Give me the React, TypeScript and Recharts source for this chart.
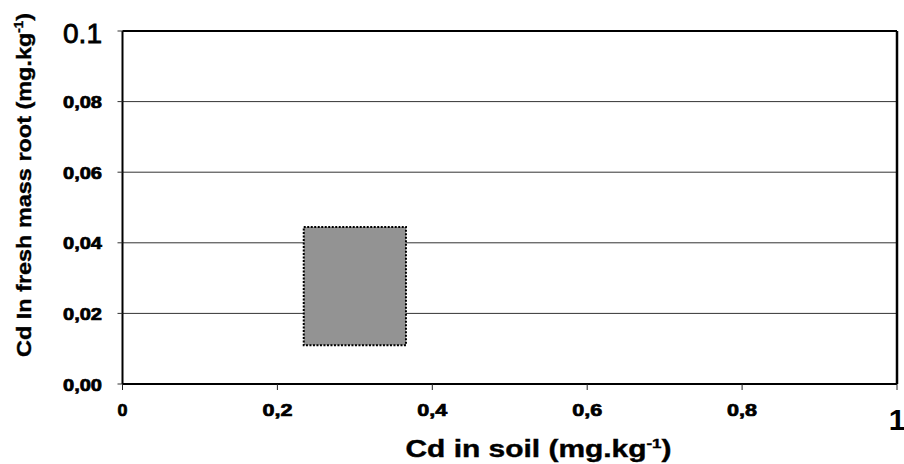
import React from 'react';
import {
  ComposedChart,
  XAxis,
  YAxis,
  CartesianGrid,
  ReferenceArea,
  ReferenceLine,
  Scatter,
} from 'recharts';

// Axis ticks and their printed labels
const xTicks = [0, 0.2, 0.4, 0.6, 0.8, 1];
const xTickLabels = ['0', '0,2', '0,4', '0,6', '0,8', '1'];
const yTicks = [0, 0.02, 0.04, 0.06, 0.08, 0.1];
const yTickLabels = ['0,00', '0,02', '0,04', '0,06', '0,08', '0.1'];

// Observed range of Cd: soil (x) and fresh-mass root (y), mg.kg-1
const soilRange = [0.234, 0.366];
const rootRange = [0.011, 0.0445];

// Corners of the observed range; they anchor the axes but are not drawn as markers
const rangeCorners = [
  { x: soilRange[0], y: rootRange[0] },
  { x: soilRange[1], y: rootRange[1] },
];

const FONT = '"Liberation Sans", Arial, sans-serif';

const YTick = (props: any) => {
  const { x, y, payload } = props;
  const i = yTicks.indexOf(payload.value);
  const label = yTickLabels[i] ?? String(payload.value);
  if (payload.value === 0.1) {
    return (
      <text x={x} y={y + 12} textAnchor="end" fontFamily={FONT} fontSize={28} fill="#000"
        stroke="#000" strokeWidth={0.8} textLength={39} lengthAdjust="spacingAndGlyphs">
        {label}
      </text>
    );
  }
  return (
    <text x={x} y={y + 6.5} textAnchor="end" fontFamily={FONT} fontWeight="bold" fontSize={16}
      fill="#000" stroke="#000" strokeWidth={0.7} textLength={39} lengthAdjust="spacingAndGlyphs">
      {label}
    </text>
  );
};

const XTick = (props: any) => {
  const { x, y, payload } = props;
  const i = xTicks.indexOf(payload.value);
  const label = xTickLabels[i] ?? String(payload.value);
  if (payload.value === 1) {
    return (
      <text x={x} y={y + 39} textAnchor="middle" fontFamily={FONT} fontWeight="bold" fontSize={30} fill="#000">
        {label}
      </text>
    );
  }
  return (
    <text x={x} y={y + 25} textAnchor="middle" fontFamily={FONT} fontWeight="bold" fontSize={17}
      fill="#000" stroke="#000" strokeWidth={0.7}
      textLength={label.length === 1 ? 10 : 30} lengthAdjust="spacingAndGlyphs">
      {label}
    </text>
  );
};

const XTitle = (props: any) => {
  const vb = props.viewBox || { x: 0, y: 0 };
  return (
    <text x={vb.x + 416} y={vb.y + 73} textAnchor="middle" fontFamily={FONT} fontWeight="bold"
      fontSize={23} fill="#000" stroke="#000" strokeWidth={0.4}
      textLength={266} lengthAdjust="spacingAndGlyphs">
      Cd in soil (mg.kg<tspan dy={-9} fontSize={13}>-1</tspan><tspan dy={9}>)</tspan>
    </text>
  );
};

const YTitle = (props: any) => {
  const vb = props.viewBox || { x: 0, y: 0 };
  const cx = vb.x + 31;
  const cy = vb.y + 154;
  return (
    <text x={cx} y={cy} transform={`rotate(-90, ${cx}, ${cy})`} textAnchor="middle" fontFamily={FONT}
      fontWeight="bold" fontSize={21} fill="#000" stroke="#000" strokeWidth={0.4}
      textLength={344} lengthAdjust="spacingAndGlyphs">
      Cd In fresh mass  root (mg.kg<tspan dy={-8} fontSize={12}>-1</tspan><tspan dy={8}>)</tspan>
    </text>
  );
};

const NoMarker = () => null;

export default function App() {
  return (
    <div style={{ position: 'absolute', left: 0, top: 0, background: '#fff' }}>
      <ComposedChart
        width={904}
        height={464}
        margin={{ top: 31, right: 7, bottom: 50, left: 0 }}
      >
        <CartesianGrid vertical={false} stroke="#333" strokeWidth={1} />
        <XAxis
          type="number"
          dataKey="x"
          domain={[0, 1]}
          ticks={xTicks}
          interval={0}
          height={30}
          tickSize={6}
          tickMargin={1}
          axisLine={{ stroke: '#000', strokeWidth: 2 }}
          tickLine={{ stroke: '#222', strokeWidth: 1 }}
          tick={<XTick />}
          label={<XTitle />}
          allowDataOverflow
        />
        <YAxis
          type="number"
          dataKey="y"
          domain={[0, 0.1]}
          ticks={yTicks}
          interval={0}
          width={122.5}
          tickSize={5}
          tickMargin={15.5}
          axisLine={{ stroke: '#000', strokeWidth: 2 }}
          tickLine={{ stroke: '#333', strokeWidth: 1 }}
          tick={<YTick />}
          label={<YTitle />}
          allowDataOverflow
        />
        <Scatter data={rangeCorners} shape={<NoMarker />} isAnimationActive={false} />
        <ReferenceArea
          x1={soilRange[0]}
          x2={soilRange[1]}
          y1={rootRange[0]}
          y2={rootRange[1]}
          fill="#939393"
          fillOpacity={1}
          stroke="#000"
          strokeWidth={2}
          strokeDasharray="2 1.5"
          ifOverflow="visible"
        />
        <ReferenceLine y={0.1} stroke="#000" strokeWidth={2} />
        <ReferenceLine x={1} stroke="#000" strokeWidth={2.5} />
      </ComposedChart>
    </div>
  );
}
